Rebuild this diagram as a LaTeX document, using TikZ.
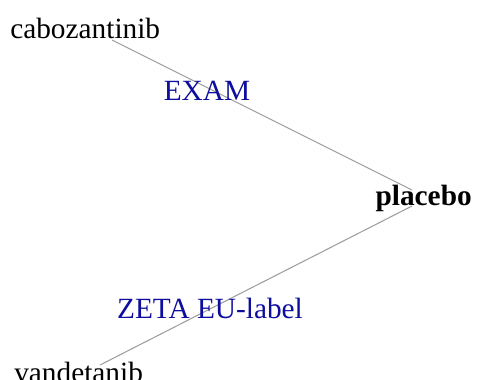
\documentclass[tikz,border=0pt]{standalone}
\usepackage{fontspec}
\setmainfont{Liberation Serif}
\usetikzlibrary{calc}
\definecolor{LabelClr}{rgb}{0.05,0.05,0.62}
\definecolor{EdgeClr}{rgb}{0.62,0.62,0.62}

\begin{document}
\begin{tikzpicture}[x=.75pt,y=-.75pt,
  drug/.style={inner sep=0pt,font=\fontsize{22}{26}\selectfont},
  trial/.style={inner sep=0pt,text=LabelClr,font=\fontsize{22}{26}\selectfont},
  edge/.style={draw=EdgeClr,line width=.8pt}]
\useasboundingbox (0,0) rectangle (478,379);

\coordinate (pCabo) at (112,40);
\coordinate (pPlaA) at (412,190);
\coordinate (pPlaB) at (412,206);
\coordinate (pVand) at (100,365);

\draw[edge] (pCabo) -- (pPlaA);
\draw[edge] (pPlaB) -- (pVand);

\node[drug,anchor=base west] (cabo) at (10,38) {cabozantinib};
\node[drug,anchor=base east] (plac) at (472,205) {\bfseries placebo};
\node[drug,anchor=base west] (vand) at (14,382) {vandetanib};

\node[trial,anchor=base] (exam) at (207,100) {EXAM};
\node[trial,anchor=base] (zeta) at (210,318) {ZETA EU-label};

\end{tikzpicture}
\end{document}
